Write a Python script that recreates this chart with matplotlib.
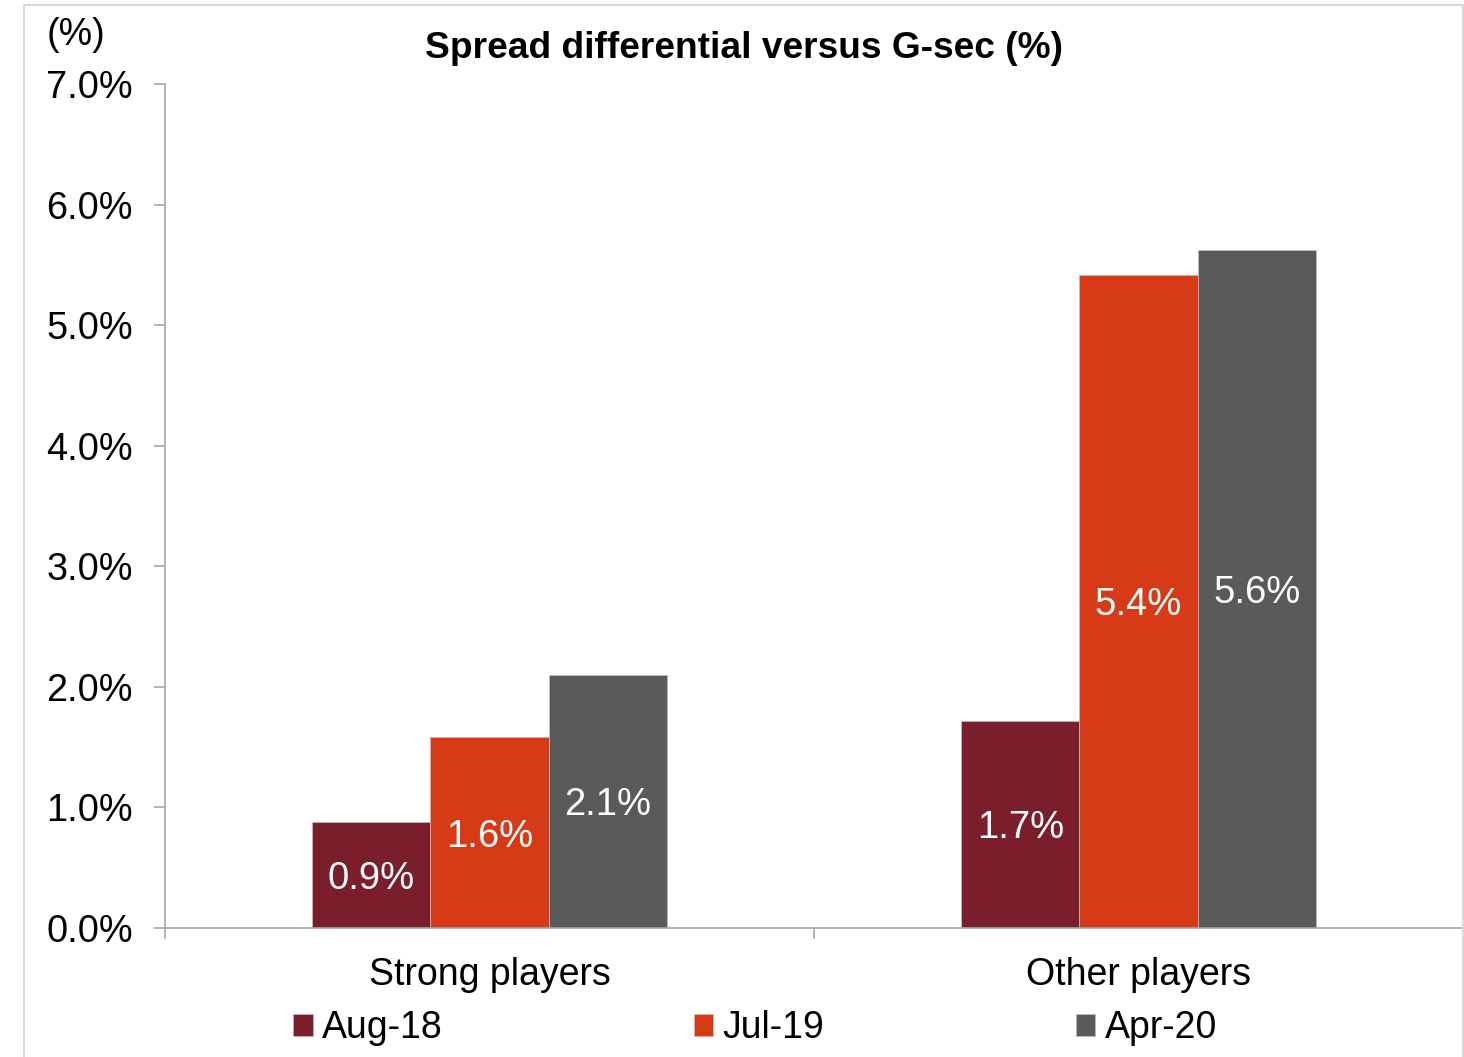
import numpy as np
import matplotlib
matplotlib.use("Agg")
import matplotlib.pyplot as plt
from matplotlib.patches import Rectangle

plt.rcParams['font.family'] = ['Liberation Sans', 'DejaVu Sans']

categories = ['Strong players', 'Other players']
series = ['Aug-18', 'Jul-19', 'Apr-20']
aug18 = [0.88, 1.72]
jul19 = [1.58, 5.42]
apr20 = [2.10, 5.62]
colors = ['#7B1E2B', '#D63A16', '#5A5A5A']

fig = plt.figure(figsize=(14.64, 10.57), dpi=100)
# light frame around the chart
fig.patches.append(Rectangle((24 / 1464, -0.01), (1463 - 24) / 1464, 1 - 5 / 1057 + 0.01,
                             transform=fig.transFigure, fill=False,
                             edgecolor='#D9D9D9', linewidth=1.5))

ax = fig.add_axes([165 / 1464, 1 - 928 / 1057, (1463 - 165) / 1464, (928 - 84) / 1057])

x = np.arange(len(categories))
w = 0.182
for i, (vals, name) in enumerate(zip([aug18, jul19, apr20], series)):
    bars = ax.bar(x + (i - 1) * w, vals, w, color=colors[i], label=name,
                  edgecolor='#BFBFBF', linewidth=0.5)
    for b, v in zip(bars, vals):
        ax.text(b.get_x() + b.get_width() / 2, v / 2, f'{v:.1f}%', ha='center',
                va='center_baseline', color='white', fontsize=27.5)

ax.set_xlim(-0.5, 1.5)
ax.set_ylim(0, 7)
ax.set_yticks(np.arange(0, 7.1, 1))
ax.set_yticklabels([f'{t:.1f}%' for t in np.arange(0, 7.1, 1)])
ax.set_xticks(x)
ax.set_xticklabels(categories)
ax.set_xticks([-0.5, 0.5, 1.5], minor=True)
ax.tick_params(axis='x', which='major', length=0, pad=21, labelsize=27)
ax.tick_params(axis='x', which='minor', length=8, color='#A6A6A6', width=1.2)
ax.tick_params(axis='y', length=8, color='#A6A6A6', width=1.2, pad=15, labelsize=27.3)
for s in ['top', 'right']:
    ax.spines[s].set_visible(False)
for s in ['left', 'bottom']:
    ax.spines[s].set_color('#A6A6A6')
    ax.spines[s].set_linewidth(1.2)

fig.text(744 / 1464, 1 - 49 / 1057, 'Spread differential versus G-sec (%)',
         ha='center', va='center', fontsize=26.7, fontweight='bold')
fig.text(47 / 1464, 1 - 35 / 1057, '(%)', ha='left', va='center', fontsize=27)

leg = fig.legend(loc='center left', bbox_to_anchor=(293 / 1464, 1 - 1028 / 1057, (1217 - 293) / 1464, 0),
                 mode='expand', ncol=3, frameon=False, fontsize=27,
                 handlelength=0.52, handleheight=0.52, handletextpad=0.25,
                 borderaxespad=0, borderpad=0)

fig.savefig('out.png', dpi=100)
